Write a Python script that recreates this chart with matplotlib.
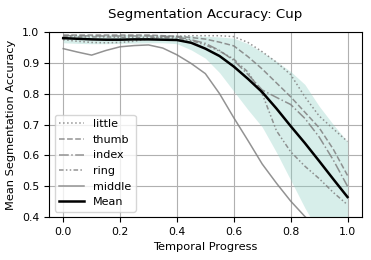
import matplotlib
matplotlib.use("Agg")
import matplotlib.pyplot as plt
import numpy as np

# Temporal progress samples
progress = np.linspace(0, 1, 21)

# Per-finger accuracy curves
little = [0.975, 0.970, 0.966, 0.965, 0.966, 0.970, 0.978, 0.984, 0.986, 0.988, 0.988,
          0.988, 0.985, 0.966, 0.936, 0.902, 0.862, 0.790, 0.728, 0.686, 0.645]
thumb = [0.990, 0.990, 0.990, 0.990, 0.990, 0.990, 0.990, 0.988, 0.986, 0.982, 0.977,
         0.967, 0.955, 0.920, 0.880, 0.835, 0.790, 0.740, 0.690, 0.620, 0.535]
index = [0.988, 0.988, 0.987, 0.987, 0.987, 0.987, 0.987, 0.986, 0.984, 0.975, 0.963,
         0.940, 0.908, 0.862, 0.812, 0.788, 0.765, 0.720, 0.660, 0.585, 0.500]
ring = [0.985, 0.984, 0.984, 0.984, 0.983, 0.983, 0.983, 0.982, 0.980, 0.972, 0.958,
        0.938, 0.912, 0.870, 0.800, 0.680, 0.612, 0.565, 0.525, 0.480, 0.440]
middle = [0.946, 0.935, 0.925, 0.940, 0.952, 0.956, 0.958, 0.948, 0.926, 0.898, 0.865,
          0.800, 0.722, 0.648, 0.572, 0.510, 0.452, 0.402, 0.360, 0.325, 0.295]
mean = [0.980, 0.978, 0.976, 0.975, 0.975, 0.976, 0.976, 0.975, 0.974, 0.965, 0.946,
        0.922, 0.888, 0.848, 0.805, 0.752, 0.695, 0.640, 0.582, 0.523, 0.465]

# Shaded spread around the mean
band_low = [0.965, 0.963, 0.962, 0.962, 0.963, 0.964, 0.965, 0.965, 0.962, 0.942, 0.915,
            0.868, 0.808, 0.748, 0.692, 0.610, 0.520, 0.430, 0.350, 0.300, 0.270]
band_high = [0.992, 0.992, 0.992, 0.992, 0.992, 0.992, 0.992, 0.991, 0.990, 0.988, 0.986,
             0.984, 0.980, 0.962, 0.935, 0.905, 0.872, 0.830, 0.760, 0.700, 0.645]

fig = plt.figure(figsize=(3.71, 2.60), dpi=100)
ax = fig.add_axes([0.132, 0.165, 0.843, 0.712])

ax.fill_between(progress, band_low, band_high, color='#8fd0c5', alpha=0.35, lw=0)

line_kw = dict(color='gray', lw=1.1, alpha=0.85)
ax.plot(progress, little, ls=':', label='little', **line_kw)
ax.plot(progress, thumb, ls='--', label='thumb', **line_kw)
ax.plot(progress, index, ls='-.', label='index', **line_kw)
ax.plot(progress, ring, ls=(0, (3, 1.5, 1, 1.5, 1, 1.5)), label='ring', **line_kw)
ax.plot(progress, middle, ls='-', label='middle', **line_kw)
ax.plot(progress, mean, color='black', lw=1.8, label='Mean')

ax.set_xlim(-0.05, 1.05)
ax.set_ylim(0.4, 1.0)
ax.set_xticks(np.arange(0, 1.01, 0.2))
ax.set_yticks(np.arange(0.4, 1.01, 0.1))
ax.tick_params(labelsize=7.8)
ax.grid(True, color='#b0b0b0', lw=0.8)
ax.set_axisbelow(True)

ax.set_title('Segmentation Accuracy: Cup', fontsize=9.6, pad=10)
ax.set_xlabel('Temporal Progress', fontsize=8.2)
ax.set_ylabel('Mean Segmentation Accuracy', fontsize=8.2)
ax.legend(loc='lower left', fontsize=8, handlelength=2.25, labelspacing=0.5)

plt.savefig("out.png")
